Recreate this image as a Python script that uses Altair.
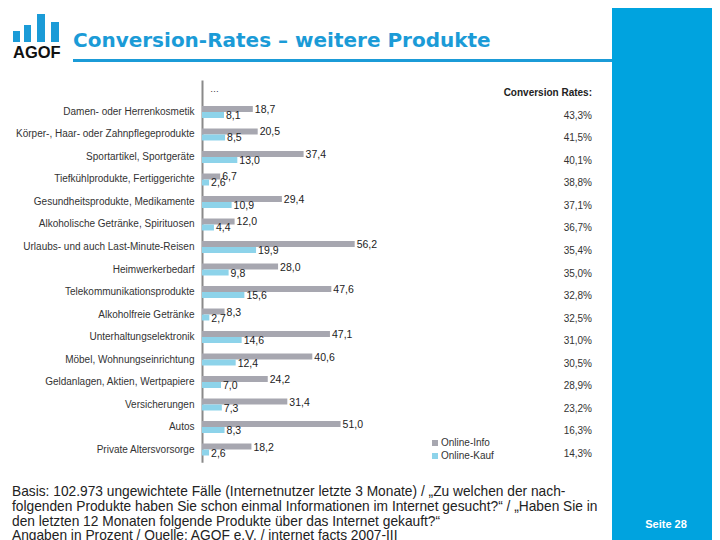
import altair as alt
import pandas as pd

categories = [
    "Damen- oder Herrenkosmetik",
    "Körper-, Haar- oder Zahnpflegeprodukte",
    "Sportartikel, Sportgeräte",
    "Tiefkühlprodukte, Fertiggerichte",
    "Gesundheitsprodukte, Medikamente",
    "Alkoholische Getränke, Spirituosen",
    "Urlaubs- und auch Last-Minute-Reisen",
    "Heimwerkerbedarf",
    "Telekommunikationsprodukte",
    "Alkoholfreie Getränke",
    "Unterhaltungselektronik",
    "Möbel, Wohnungseinrichtung",
    "Geldanlagen, Aktien, Wertpapiere",
    "Versicherungen",
    "Autos",
    "Private Altersvorsorge",
]
online_info = [18.7, 20.5, 37.4, 6.7, 29.4, 12.0, 56.2, 28.0, 47.6, 8.3, 47.1, 40.6, 24.2, 31.4, 51.0, 18.2]
online_kauf = [8.1, 8.5, 13.0, 2.6, 10.9, 4.4, 19.9, 9.8, 15.6, 2.7, 14.6, 12.4, 7.0, 7.3, 8.3, 2.6]
conversion_rates = ["43,3%", "41,5%", "40,1%", "38,8%", "37,1%", "36,7%", "35,4%", "35,0%",
                    "32,8%", "32,5%", "31,0%", "30,5%", "28,9%", "23,2%", "16,3%", "14,3%"]
series = ["Online-Info", "Online-Kauf"]

footer_lines = [
    "Basis: 102.973 ungewichtete Fälle (Internetnutzer letzte 3 Monate) / „Zu welchen der nach-",
    "folgenden Produkte haben Sie schon einmal Informationen im Internet gesucht?“ / „Haben Sie in",
    "den letzten 12 Monaten folgende Produkte über das Internet gekauft?“",
    "Angaben in Prozent / Quelle: AGOF e.V. / internet facts 2007-III",
]

GRAY = "#a7a7b0"
LIGHTBLUE = "#8dd3ea"
TITLE_BLUE = "#1b9bd7"
STRIP_BLUE = "#00a3df"
FONT = "Liberation Sans"

rows = []
for c, a, b in zip(categories, online_info, online_kauf):
    rows.append({"cat": c, "series": series[0], "value": a})
    rows.append({"cat": c, "series": series[1], "value": b})
df = pd.DataFrame(rows)
df_rates = pd.DataFrame({"cat": categories, "rate": conversion_rates})

y_enc = alt.Y(
    "cat:N", sort=categories,
    scale=alt.Scale(paddingInner=0, paddingOuter=0.494, align=0.933),
    axis=alt.Axis(title=None, ticks=False, labelPadding=8, labelFontSize=10, labelColor="#333333",
                  labelFont=FONT, domainColor="#8a8a8a", domainWidth=2, labelLimit=400, grid=False),
)
x_enc = alt.X("value:Q", scale=alt.Scale(domain=[0, 60]), axis=None)
yoff_enc = alt.YOffset("series:N", sort=series, scale=alt.Scale(paddingInner=0, paddingOuter=0.875))

bars = alt.Chart(df).mark_bar(size=6).encode(
    y=y_enc, x=x_enc, yOffset=yoff_enc,
    color=alt.Color("series:N", scale=alt.Scale(domain=series, range=[GRAY, LIGHTBLUE]),
                    legend=alt.Legend(orient="none", legendX=228, legendY=358, title=None,
                                      symbolType="square", symbolSize=36, symbolStrokeWidth=0,
                                      labelFontSize=10, labelFont=FONT, labelColor="#333333",
                                      rowPadding=3, labelOffset=1)),
)

labels = alt.Chart(df).transform_calculate(
    lab="replace(format(datum.value, '.1f'), '.', ',')"
).mark_text(align="left", baseline="middle", dx=2, dy=1, fontSize=10.5, font=FONT, color="#222222").encode(
    y=y_enc, x=x_enc, yOffset=yoff_enc, text="lab:N"
)

rates = alt.Chart(df_rates).mark_text(align="right", baseline="middle", dy=4, fontSize=10, font=FONT,
                                      color="#333333").encode(
    y=y_enc, x=alt.value(390), text="rate:N"
)

one = alt.Data(values=[{}])


def deco_text(text, x, y, **kw):
    return alt.Chart(one).mark_text(text=text, **kw).encode(x=alt.value(x), y=alt.value(y))


def deco_rect(x, x2, y, y2, color):
    return alt.Chart(one).mark_rect(color=color).encode(
        x=alt.value(x), x2=alt.value(x2), y=alt.value(y), y2=alt.value(y2))


layers = [
    deco_rect(410, 520, -90, 470, STRIP_BLUE),
    deco_rect(-129, 410, -21, -18, TITLE_BLUE),
]
logo_x = [(-189, -182), (-178, -171), (-165, -157), (-151, -143)]
logo_top = [-49, -55, -66, -58]
for (x0, x1), t in zip(logo_x, logo_top):
    layers.append(deco_rect(x0, x1, t, -38, TITLE_BLUE))

layers += [
    deco_text("AGOF", -189, -22, align="left", baseline="alphabetic", fontSize=16.5, fontWeight="bold",
              font=FONT, color="#111111"),
    deco_text("Conversion-Rates – weitere Produkte", -129, -33, align="left", baseline="alphabetic",
              fontSize=20, fontWeight="bold", font="DejaVu Sans", color=TITLE_BLUE),
    deco_text("Conversion Rates:", 390, 13, align="right", baseline="middle", fontSize=10,
              fontWeight="bold", font=FONT, color="#222222"),
    deco_text("…", 8, 9, align="left", baseline="middle", fontSize=9, font=FONT, color="#333333"),
    deco_text(footer_lines, -190, 416, align="left", baseline="alphabetic", fontSize=13.75, lineHeight=14.8,
              font=FONT, color="#222222"),
    deco_text("Seite 28", 464, 445, align="center", baseline="middle", fontSize=11, fontWeight="bold",
              font=FONT, color="white"),
    bars, labels, rates,
]

chart = alt.layer(*layers).properties(
    width=163, height=382.25,
    autosize=alt.AutoSizeParams(type="none"),
    padding={"left": 194, "top": 72, "right": 347, "bottom": 77.75},
).configure(background="white").configure_view(stroke=None)

chart.save("out.html", embed_options={"renderer": "svg", "actions": False})
